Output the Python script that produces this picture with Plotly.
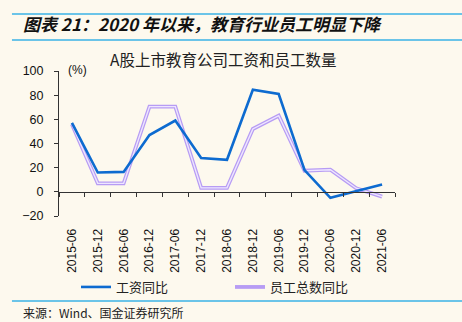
import plotly.graph_objects as go

# Half-year periods
periods = ["2015-06", "2015-12", "2016-06", "2016-12", "2017-06", "2017-12",
           "2018-06", "2018-12", "2019-06", "2019-12", "2020-06", "2020-12", "2021-06"]

# Year-on-year growth, %
wage_yoy = [57, 16, 16.5, 47, 59, 28, 26.5, 84.5, 81, 18, -5, 0.5, 6]
staff_yoy = [56, 7, 7, 70.5, 70.5, 3.3, 3.3, 52, 63, 17.5, 18.3, 3, -4]

y_ticks = [-20, 0, 20, 40, 60, 80, 100]

W, H = 462, 322
L, R, T, B = 59, 67.3, 71, 106
PW, PH = W - L - R, H - T - B

def px_x(x):
    return (x - L) / PW

def px_y(y):
    return (H - B - y) / PH

BG = "#FDF9EE"
BLUE = "#0D6BD0"
PURPLE = "#B79CF4"
PURPLE_IN = "#EEE6FF"
RULE = "#3AB2E6"
CJK = "Noto Sans CJK SC"
LAT = "Liberation Sans, Arial"

fig = go.Figure()

# employee count: a purple outline with a pale core
fig.add_trace(go.Scatter(x=periods, y=staff_yoy, mode="lines", name="员工总数同比",
                         line=dict(color=PURPLE, width=3.8), xaxis="x", yaxis="y"))
fig.add_trace(go.Scatter(x=periods, y=staff_yoy, mode="lines", showlegend=False,
                         line=dict(color=PURPLE_IN, width=1.4), xaxis="x", yaxis="y",
                         hoverinfo="skip"))
# wages, drawn on the overlaying axis so it sits on top
fig.add_trace(go.Scatter(x=periods, y=wage_yoy, mode="lines", name="工资同比",
                         line=dict(color=BLUE, width=2.6), xaxis="x2", yaxis="y"))

fig.update_layout(
    width=W, height=H,
    margin=dict(l=L, r=R, t=T, b=B, pad=0),
    paper_bgcolor=BG, plot_bgcolor=BG,
    showlegend=True,
    legend=dict(orientation="h", traceorder="reversed",
                x=px_x(76), xanchor="left", y=px_y(287), yanchor="middle",
                font=dict(family=CJK, size=13, color="#222"),
                entrywidth=109, entrywidthmode="pixels",
                bgcolor="rgba(0,0,0,0)", itemwidth=30),
    xaxis=dict(type="category", range=[-0.5, 12.5], showgrid=False, showline=False,
               zeroline=False, tickangle=-90, ticks="outside", ticklen=7,
               tickcolor="rgba(0,0,0,0)",
               tickfont=dict(family=LAT, size=12, color="#111")),
    xaxis2=dict(type="category", range=[-0.5, 12.5], overlaying="x", anchor="free",
                position=px_y(192), side="bottom", showgrid=False, showline=True,
                linecolor="#333", linewidth=1, ticks="outside", ticklen=4,
                tickcolor="#333", tickson="boundaries", showticklabels=False,
                zeroline=False),
    yaxis=dict(range=[-20, 100], tickvals=y_ticks, showgrid=False, zeroline=False,
               showline=True, linecolor="#333", linewidth=1, ticks="outside",
               ticklen=4, tickcolor="#333", ticklabelstandoff=8,
               tickfont=dict(family=LAT, size=12.5, color="#111")),
)

anns = [
    dict(text="<b><i>图表 21：2020 年以来，教育行业员工明显下降</i></b>", x=px_x(21), y=px_y(23),
         xanchor="left", yanchor="middle", font=dict(family=CJK, size=17, color="#111")),
    dict(text="A股上市教育公司工资和员工数量", x=px_x(223), y=px_y(59),
         xanchor="center", yanchor="middle", font=dict(family=CJK, size=15.5, color="#222")),
    dict(text="(%)", x=px_x(66), y=px_y(70), xanchor="left", yanchor="middle",
         font=dict(family=LAT, size=12, color="#111")),
    dict(text="来源：Wind、国金证券研究所", x=px_x(21), y=px_y(312),
         xanchor="left", yanchor="middle", font=dict(family=CJK, size=12, color="#222")),
]
for a in anns:
    a.update(xref="paper", yref="paper", showarrow=False)
fig.update_layout(annotations=anns)

rules = [14, 40, 301]
fig.update_layout(shapes=[
    dict(type="line", xref="paper", yref="paper", x0=px_x(12), x1=px_x(462),
         y0=px_y(r), y1=px_y(r), line=dict(color=RULE, width=1.5))
    for r in rules
])

fig.write_html("out.html")
